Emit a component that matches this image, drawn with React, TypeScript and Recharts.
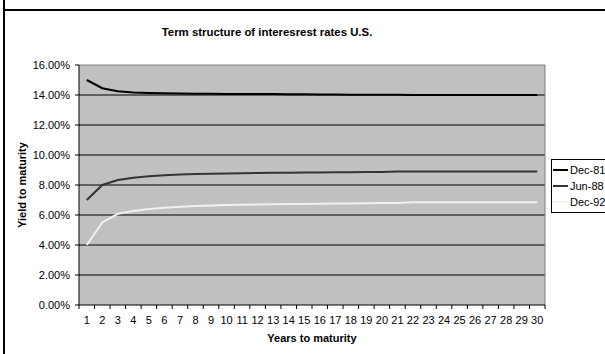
import React from 'react';
import { LineChart, Line, XAxis, YAxis, CartesianGrid, Legend, ReferenceLine } from 'recharts';

const FONT = '"Liberation Sans", Arial, sans-serif';

const years = [1, 2, 3, 4, 5, 6, 7, 8, 9, 10, 11, 12, 13, 14, 15, 16, 17, 18, 19, 20, 21, 22, 23, 24, 25, 26, 27, 28, 29, 30];

// yields in percent
const dec81 = [15.0, 14.45, 14.25, 14.17, 14.13, 14.11, 14.1, 14.09, 14.08, 14.07, 14.06, 14.06, 14.06, 14.05, 14.05, 14.04, 14.03, 14.02, 14.02, 14.01, 14.01, 14.0, 14.0, 14.0, 14.0, 14.0, 14.0, 14.0, 14.0, 14.0];
const jun88 = [7.0, 8.0, 8.33, 8.48, 8.58, 8.65, 8.7, 8.73, 8.75, 8.77, 8.78, 8.8, 8.81, 8.82, 8.83, 8.84, 8.85, 8.85, 8.86, 8.86, 8.9, 8.9, 8.9, 8.9, 8.9, 8.9, 8.9, 8.9, 8.9, 8.9];
const dec92 = [4.0, 5.5, 6.08, 6.27, 6.4, 6.48, 6.55, 6.6, 6.63, 6.66, 6.68, 6.7, 6.72, 6.73, 6.74, 6.75, 6.76, 6.77, 6.78, 6.8, 6.8, 6.85, 6.85, 6.85, 6.85, 6.85, 6.85, 6.85, 6.85, 6.85];

const seriesNames = ['Dec-81', 'Jun-88', 'Dec-92'];
const yTicks = [0, 2, 4, 6, 8, 10, 12, 14, 16];
const gridValues = [2, 4, 6, 8, 10, 12, 14];

const data = years.map((y, i) => ({ year: y, dec81: dec81[i], jun88: jun88[i], dec92: dec92[i] }));

// tick marks sit between categories, labels in the middle of each category
const boundaries = years.map(y => y - 0.5).concat(years[years.length - 1] + 0.5);

const XTick = (props: any) => {
  const { x, y, payload, width } = props;
  const band = width / years.length;
  const v = payload.value + 0.5;
  if (v > years[years.length - 1]) return null;
  return (
    <text x={x + band / 2} y={y + 13} textAnchor="middle" fontSize={11} fontFamily={FONT} fill="#000">
      {v}
    </text>
  );
};

const LegendBox = (props: any) => {
  const items = [...(props.payload || [])].sort(
    (a: any, b: any) => seriesNames.indexOf(a.value) - seriesNames.indexOf(b.value)
  );
  return (
    <div style={{ border: '1px solid #000', background: '#fff', padding: '2px 0 2px 1px', width: 60, fontFamily: FONT, fontSize: 11 }}>
      {items.map((p: any) => (
        <div key={p.value} style={{ display: 'flex', alignItems: 'center', height: 16 }}>
          <span style={{ display: 'inline-block', width: 15, height: 2, background: p.color, marginRight: 2 }} />
          <span style={{ color: '#000' }}>{p.value}</span>
        </div>
      ))}
    </div>
  );
};

export default function App() {
  return (
    <div style={{ position: 'absolute', left: 0, top: 0, width: 605, height: 354, background: '#fff', overflow: 'hidden' }}>
      <div style={{ position: 'absolute', left: 3, top: 0, width: 2, height: 354, background: '#000' }} />
      <div style={{ position: 'absolute', left: 3, top: 9, width: 602, height: 2, background: '#000' }} />
      <div
        style={{
          position: 'absolute', left: 0, top: 25, width: 534, textAlign: 'center',
          fontFamily: FONT, fontSize: 11.4, fontWeight: 'bold', lineHeight: '14px', color: '#000'
        }}
      >
        Term structure of interesrest rates U.S.
      </div>
      <LineChart width={605} height={354} data={data} margin={{ top: 65, right: 60, left: 14, bottom: 9 }}>
        <CartesianGrid fill="#C0C0C0" vertical={false} stroke="#000" horizontalValues={gridValues} />
        <XAxis
          dataKey="year"
          type="number"
          domain={[0.5, 30.5]}
          ticks={boundaries}
          interval={0}
          height={40}
          tickSize={4}
          tickMargin={2}
          axisLine={{ stroke: '#000' }}
          tickLine={{ stroke: '#000' }}
          tick={<XTick />}
          label={{ value: 'Years to maturity', position: 'insideBottom', offset: 3, style: { fontFamily: FONT, fontSize: 11, fontWeight: 'bold', fill: '#000' } }}
        />
        <YAxis
          domain={[0, 16]}
          ticks={yTicks}
          interval={0}
          width={65}
          tickSize={4}
          tickMargin={5}
          axisLine={{ stroke: '#000' }}
          tickLine={{ stroke: '#000' }}
          tickFormatter={(v: number) => v.toFixed(2) + '%'}
          tick={{ fontFamily: FONT, fontSize: 11, fill: '#000' }}
          label={{ value: 'Yield to maturity', angle: -90, position: 'insideLeft', offset: 8, style: { textAnchor: 'middle', fontFamily: FONT, fontSize: 11, fontWeight: 'bold', fill: '#000' } }}
        />
        <ReferenceLine y={16} stroke="#808080" />
        <ReferenceLine x={30.5} stroke="#808080" />
        <Legend
          layout="vertical"
          align="center"
          verticalAlign="middle"
          content={<LegendBox />}
          wrapperStyle={{ left: 551, top: 159, width: 60 }}
        />
        <Line type="linear" dataKey="dec81" name="Dec-81" stroke="#000" strokeWidth={2} dot={false} isAnimationActive={false} />
        <Line type="linear" dataKey="jun88" name="Jun-88" stroke="#333" strokeWidth={2} dot={false} isAnimationActive={false} />
        <Line type="linear" dataKey="dec92" name="Dec-92" stroke="#F0F0F0" strokeWidth={2} dot={false} isAnimationActive={false} />
      </LineChart>
    </div>
  );
}
